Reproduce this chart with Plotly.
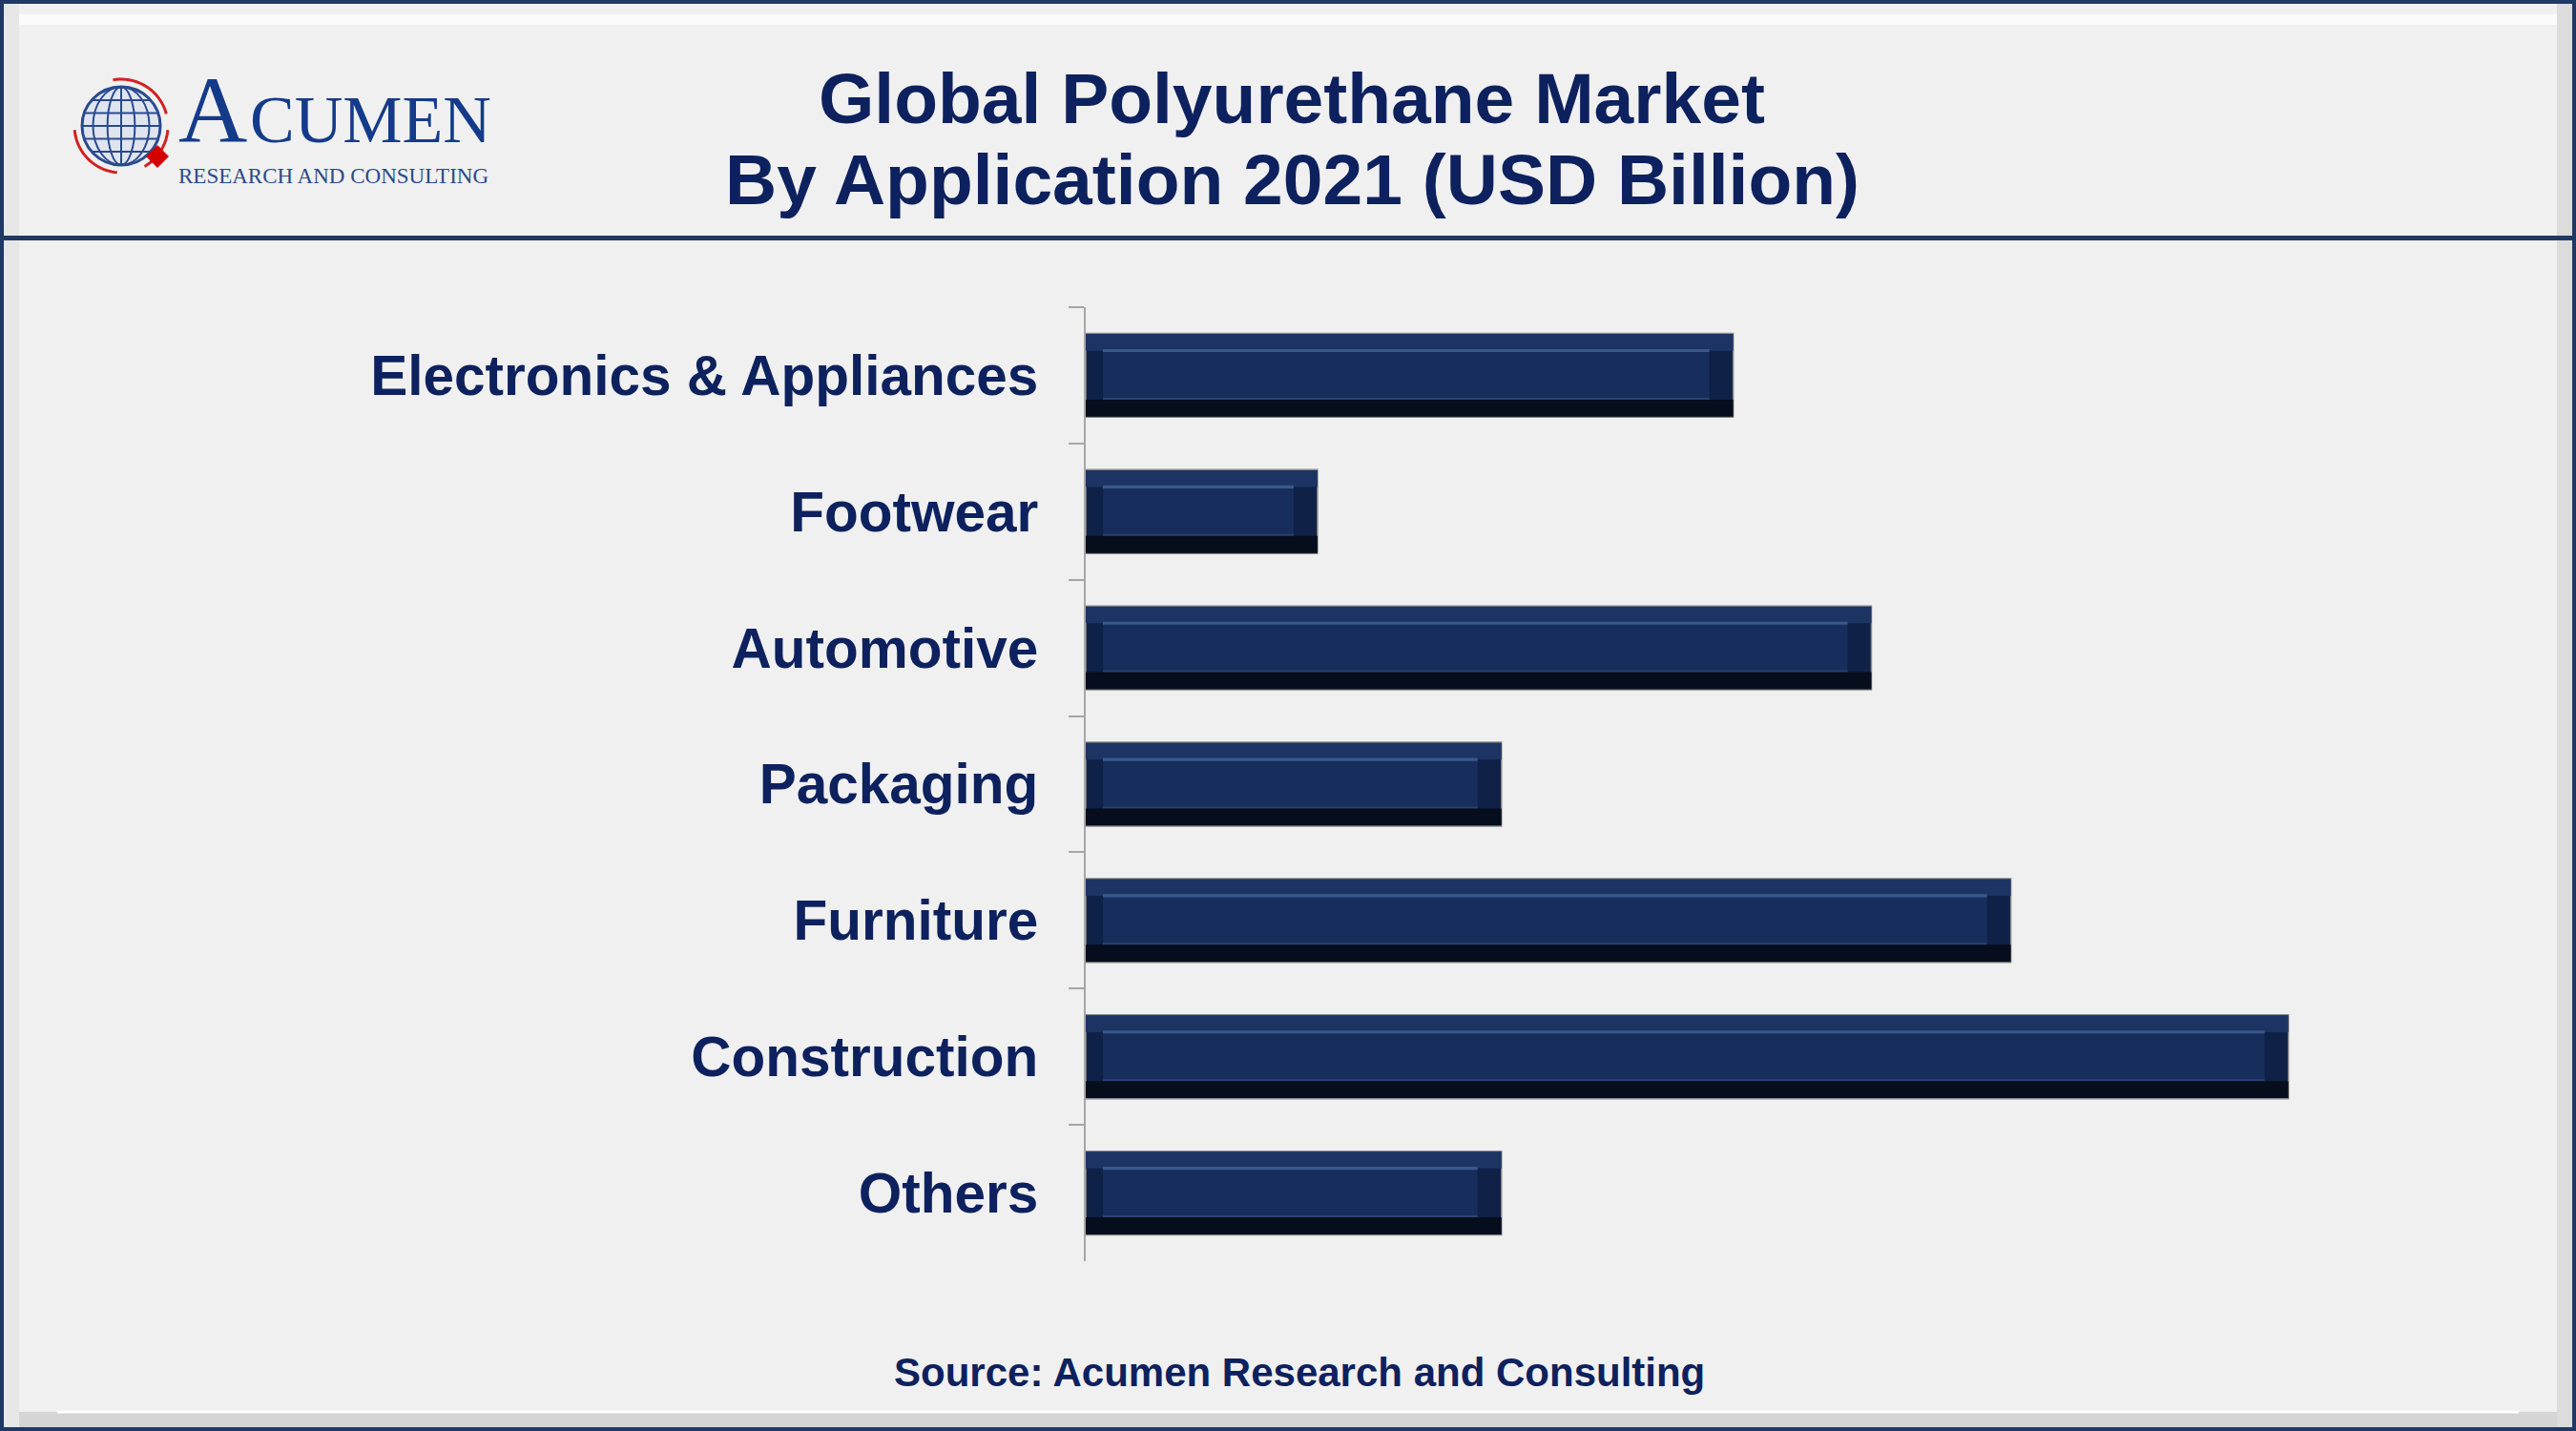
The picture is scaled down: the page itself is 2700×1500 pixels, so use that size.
import math
import plotly.graph_objects as go

# ---------------- data ----------------
categories = ["Electronics & Appliances", "Footwear", "Automotive", "Packaging",
              "Furniture", "Construction", "Others"]
values = [10.17, 3.64, 12.34, 6.53, 14.53, 18.89, 6.53]   # USD Billion (estimated)

title_line1 = "Global Polyurethane Market"
title_line2 = "By Application 2021 (USD Billion)"
source_text = "Source: Acumen Research and Consulting"
logo_name = "CUMEN"
logo_initial = "A"
logo_sub = "RESEARCH AND CONSULTING"

# ---------------- layout constants ----------------
W, H = 2700, 1500
L, R, T, B = 1138, 200, 322, 178
PW, PH = W - L - R, H - T - B
XMAX = 20.41
PPU = PW / XMAX  # pixels per unit

NAVY = "#0d215e"
FRAME = "#1f3864"


def px(x):
    return (x - L) / PW


def py(y):
    return (H - B - y) / PH


fig = go.Figure()

# bar geometry (category units)
BH = 0.615
top = -BH / 2
inset_l = 18 / PPU
inset_r = 25 / PPU


def layer(color, off, wid, base=None, xs=None, line=None):
    fig.add_trace(go.Bar(
        y=categories, x=xs if xs is not None else values, base=base, orientation="h",
        width=wid, offset=off,
        marker=dict(color=color, line=line or dict(width=0)),
        showlegend=False, hoverinfo="skip"))


inner = [v - inset_l - inset_r for v in values]
# base bar
layer("#0f2147", top, BH, line=dict(color="#8a8a8a", width=1.5))
# top band
layer("#1b3464", top + 0.004, 0.2 * BH)
# inner panel
layer("#172e5c", top + 0.2 * BH, 0.6 * BH, base=[inset_l] * len(values), xs=inner)
# highlight line
layer("#3a5889", top + 0.2 * BH - 0.008, 0.022, base=[inset_l] * len(values), xs=inner)
# lower faint line
layer("#2b4170", top + 0.8 * BH - 0.02, 0.016, base=[inset_l] * len(values), xs=inner)
# bottom dark band
layer("#060d1c", top + 0.79 * BH, 0.21 * BH - 0.004)

shapes = []
# header separator
shapes.append(dict(type="line", xref="paper", yref="paper", x0=px(0), x1=px(W),
                   y0=py(249.5), y1=py(249.5), line=dict(color=FRAME, width=5)))
# bevel bands
shapes.append(dict(type="rect", xref="paper", yref="paper", x0=px(4), x1=px(W - 4),
                   y0=py(1480), y1=py(1496), fillcolor="#d5d5d5", line=dict(width=0), layer="below"))
shapes.append(dict(type="line", xref="paper", yref="paper", x0=px(60), x1=px(W - 60),
                   y0=py(1480), y1=py(1480), line=dict(color="#ffffff", width=3)))
shapes.append(dict(type="rect", xref="paper", yref="paper", x0=px(W - 20), x1=px(W - 4),
                   y0=py(4), y1=py(1496), fillcolor="#dcdcdc", line=dict(width=0), layer="below"))
shapes.append(dict(type="rect", xref="paper", yref="paper", x0=px(4), x1=px(20),
                   y0=py(4), y1=py(1496), fillcolor="#e7e7e7", line=dict(width=0), layer="below"))
shapes.append(dict(type="rect", xref="paper", yref="paper", x0=px(20), x1=px(W - 20),
                   y0=py(15), y1=py(26), fillcolor="#fbfbfb", line=dict(width=0), layer="below"))
# outer frame
shapes.append(dict(type="rect", xref="paper", yref="paper", x0=px(2), x1=px(W - 2),
                   y0=py(2), y1=py(H - 2), line=dict(color=FRAME, width=4)))

# ---- logo: globe ----
gx, gy, gr = 127, 132, 41
shapes.append(dict(type="circle", xref="paper", yref="paper", x0=px(gx - gr), x1=px(gx + gr),
                   y0=py(gy - gr), y1=py(gy + gr), fillcolor="#dfe4ee",
                   line=dict(color="#2a4a8e", width=3)))
for f in (0.35, 0.72):
    shapes.append(dict(type="circle", xref="paper", yref="paper", x0=px(gx - gr * f), x1=px(gx + gr * f),
                       y0=py(gy - gr), y1=py(gy + gr), line=dict(color="#2a4a8e", width=2)))
shapes.append(dict(type="line", xref="paper", yref="paper", x0=px(gx), x1=px(gx),
                   y0=py(gy - gr), y1=py(gy + gr), line=dict(color="#2a4a8e", width=2)))
for k in (-0.66, -0.33, 0, 0.33, 0.66):
    dy = gr * k
    half = math.sqrt(gr * gr - dy * dy)
    shapes.append(dict(type="line", xref="paper", yref="paper", x0=px(gx - half), x1=px(gx + half),
                       y0=py(gy + dy), y1=py(gy + dy), line=dict(color="#2a4a8e", width=2)))


def arc_path(cx, cy, r, a0, a1, n=24):
    pts = []
    for i in range(n + 1):
        a = math.radians(a0 + (a1 - a0) * i / n)
        pts.append((px(cx + r * math.cos(a)), py(cy - r * math.sin(a))))
    return "M " + " L ".join(f"{x:.5f},{y:.5f}" for x, y in pts)


for a0, a1 in ((100, 15), (-5, -60), (185, 265)):
    shapes.append(dict(type="path", xref="paper", yref="paper", path=arc_path(gx, gy, gr + 8, a0, a1),
                       line=dict(color="#d42020", width=3)))
# red diamond
dcx, dcy, dr = 165, 164, 12
shapes.append(dict(type="path", xref="paper", yref="paper",
                   path=f"M {px(dcx):.5f},{py(dcy - dr):.5f} L {px(dcx + dr):.5f},{py(dcy):.5f} "
                        f"L {px(dcx):.5f},{py(dcy + dr):.5f} L {px(dcx - dr):.5f},{py(dcy):.5f} Z",
                   fillcolor="#d40000", line=dict(width=0)))

annotations = [
    dict(text=title_line1, x=px(1354), y=py(103), xref="paper", yref="paper", showarrow=False,
         xanchor="center", yanchor="middle",
         font=dict(family="Liberation Sans", size=75, color=NAVY, weight="bold")),
    dict(text=title_line2, x=px(1354), y=py(188), xref="paper", yref="paper", showarrow=False,
         xanchor="center", yanchor="middle",
         font=dict(family="Liberation Sans", size=75, color=NAVY, weight="bold")),
    dict(text=source_text, x=px(1362), y=py(1438), xref="paper", yref="paper", showarrow=False,
         xanchor="center", yanchor="middle",
         font=dict(family="Liberation Sans", size=42, color=NAVY, weight="bold")),
    dict(text=logo_initial, x=px(185), y=py(115.5), xref="paper", yref="paper", showarrow=False,
         xanchor="left", yanchor="middle",
         font=dict(family="Liberation Serif", size=100, color="#143b8a")),
    dict(text=logo_name, x=px(260), y=py(125.5), xref="paper", yref="paper", showarrow=False,
         xanchor="left", yanchor="middle",
         font=dict(family="Liberation Serif", size=70, color="#143b8a")),
    dict(text=logo_sub, x=px(185), y=py(184), xref="paper", yref="paper", showarrow=False,
         xanchor="left", yanchor="middle",
         font=dict(family="Liberation Serif", size=23, color="#2a4a8a")),
]

fig.update_layout(
    width=W, height=H,
    margin=dict(l=L, r=R, t=T, b=B, pad=0),
    paper_bgcolor="#f0f0f0", plot_bgcolor="#f0f0f0",
    barmode="overlay",
    shapes=shapes, annotations=annotations,
    xaxis=dict(visible=False, range=[0, XMAX], fixedrange=True),
    yaxis=dict(type="category", categoryorder="array", categoryarray=categories,
               range=[len(categories) - 0.5, -0.5], tickson="boundaries",
               ticks="outside", ticklen=16, tickwidth=2, tickcolor="#a6a6a6",
               showline=True, linecolor="#a6a6a6", linewidth=2, showgrid=False, zeroline=False,
               ticklabelstandoff=36,
               tickfont=dict(family="Liberation Sans", size=58.5, color=NAVY, weight="bold")),
)

fig.write_html("out.html")
